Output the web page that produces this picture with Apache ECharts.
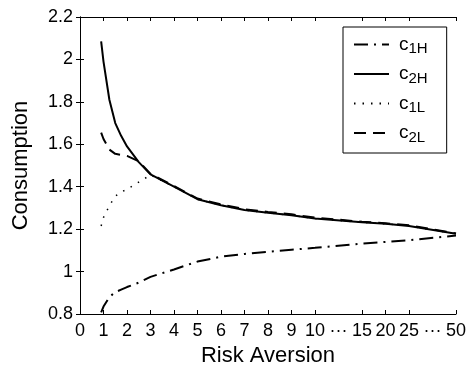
<!DOCTYPE html>
<html>
<head>
<meta charset="utf-8">
<script src="https://cdn.jsdelivr.net/npm/echarts@6/dist/echarts.min.js"></script>
<style>
html,body{margin:0;padding:0;background:#fff;}
#c{width:470px;height:372px;}
</style>
</head>
<body>
<div id="c"></div>
<script>
// x positions on the (compressed) risk-aversion axis
const xPos = [0.9, 1, 1.25, 1.5, 1.75, 2, 2.5, 3, 4, 5, 6, 7, 8, 9, 10, 12, 13, 14, 16];
const c1H = [0.808, 0.835, 0.88, 0.903, 0.915, 0.927, 0.948, 0.975, 1.01, 1.047, 1.07, 1.083, 1.093, 1.103, 1.112, 1.132, 1.14, 1.148, 1.17];
const c2H = [2.085, 1.99, 1.81, 1.70, 1.64, 1.59, 1.516, 1.458, 1.40, 1.341, 1.313, 1.290, 1.277, 1.265, 1.250, 1.232, 1.225, 1.215, 1.178];
const c1L = [1.215, 1.255, 1.31, 1.355, 1.375, 1.388, 1.422, 1.455, 1.40, 1.341, 1.313, 1.290, 1.277, 1.265, 1.250, 1.232, 1.225, 1.215, 1.178];
const c2L = [1.655, 1.625, 1.575, 1.555, 1.55, 1.545, 1.52, 1.46, 1.403, 1.344, 1.317, 1.294, 1.281, 1.27, 1.254, 1.235, 1.228, 1.218, 1.18];
const xTickLabels = ['0','1','2','3','4','5','6','7','8','9','10','\u00b7\u00b7\u00b7','15','20','25','\u00b7\u00b7\u00b7','50'];
const xTickPositions = [0,1,2,3,4,5,6,7,8,9,10,12,13,14,16];
const seriesNames = ['c1H','c2H','c1L','c2L'];

const chart = echarts.init(document.getElementById('c'), null, {renderer:'canvas'});
const font = '"Liberation Sans", Arial, Helvetica, sans-serif';
const labelPositions = xTickLabels.map((_, i) => i);

function mk(name, vals, type, width) {
  return {
    name: name, type: 'line', symbol: 'none', smooth: false,
    data: xPos.map((x, i) => [x, vals[i]]),
    lineStyle: {color: '#000', width: width, type: type},
    itemStyle: {color: '#000'}
  };
}

chart.setOption({
  animation: false,
  textStyle: {fontFamily: font},
  grid: {left: 80, right: 14, top: 17, bottom: 58},
  legend: {
    orient: 'vertical', left: 343, top: 27,
    data: seriesNames,
    borderColor: '#000', borderWidth: 1, borderRadius: 0,
    padding: [8, 19, 8, 10],
    itemWidth: 35, itemHeight: 14, itemGap: 8,
    itemStyle: {opacity: 0, borderWidth: 0},
    formatter: n => 'c{s|' + n.slice(1) + '}',
    textStyle: {fontSize: 19, color: '#000', fontFamily: font, padding: [0,0,0,5],
      rich: {s: {fontSize: 15, color: '#000', fontFamily: font, padding: [9,0,0,0]}}}
  },
  xAxis: [{
    type: 'value', min: 0, max: 16, interval: 1, position: 'bottom',
    name: 'Risk Aversion', nameLocation: 'middle', nameGap: 31,
    nameTextStyle: {fontSize: 22, color: '#000', fontFamily: font},
    axisLine: {show: true, lineStyle: {color: '#000', width: 1}},
    axisTick: {show: true, inside: true, length: 4, customValues: xTickPositions, lineStyle: {color: '#000'}},
    axisLabel: {show: true, customValues: labelPositions, formatter: v => xTickLabels[Math.round(v)],
      fontSize: 18, color: '#000', margin: 8, fontFamily: font},
    splitLine: {show: false}
  }, {
    type: 'value', min: 0, max: 16, interval: 1, position: 'top',
    axisLine: {show: true, lineStyle: {color: '#000', width: 1}},
    axisTick: {show: true, inside: true, length: 4, customValues: xTickPositions, lineStyle: {color: '#000'}},
    axisLabel: {show: false},
    splitLine: {show: false}
  }],
  yAxis: [{
    type: 'value', min: 0.8, max: 2.2, interval: 0.2, position: 'left',
    name: 'Consumption', nameLocation: 'middle', nameGap: 48,
    nameTextStyle: {fontSize: 22, color: '#000', fontFamily: font},
    axisLine: {show: true, lineStyle: {color: '#000', width: 1}},
    axisTick: {show: true, inside: true, length: 4, lineStyle: {color: '#000'}},
    axisLabel: {fontSize: 18, color: '#000', margin: 7, fontFamily: font,
      formatter: v => String(Math.round(v * 10) / 10)},
    splitLine: {show: false}
  }, {
    type: 'value', min: 0.8, max: 2.2, interval: 0.2, position: 'right',
    axisLine: {show: true, lineStyle: {color: '#000', width: 1}},
    axisTick: {show: true, inside: true, length: 4, lineStyle: {color: '#000'}},
    axisLabel: {show: false},
    splitLine: {show: false}
  }],
  series: [
    mk('c1H', c1H, [14, 6, 2, 6], 2),
    mk('c2H', c2H, 'solid', 2),
    mk('c1L', c1L, [1.5, 7], 1.5),
    mk('c2L', c2L, [12, 7], 2)
  ]
});
</script>
</body>
</html>
